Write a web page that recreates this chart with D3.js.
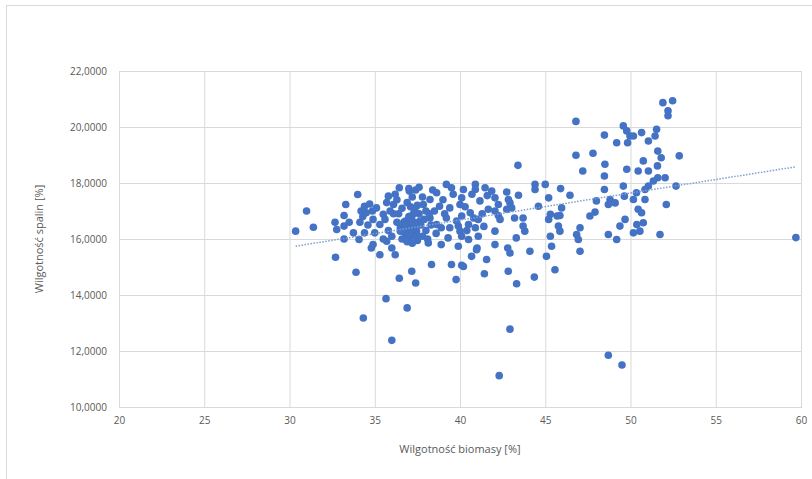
<!DOCTYPE html>
<html><head><meta charset="utf-8">
<script src="https://cdn.jsdelivr.net/npm/d3@7"></script>
<style>body{margin:0;background:#fff}svg{display:block}text{font-family:"Open Sans","Liberation Sans",sans-serif;fill:#595959}</style>
</head><body>
<svg id="c" width="812" height="479"></svg>
<script>
// Wilgotność biomasy [%]
const biomass = [
30.36,31.0,31.4,32.67,32.77,32.7,33.2,33.2,33.2,33.3,33.5,33.75,33.9,34.0,34.08,34.13,34.33,34.4,34.5,34.4,34.86,34.8,34.2,34.7,34.9,34.3,34.6,
35.1,35.8,36.1,35.5,35.3,35.0,34.9,35.3,35.7,36.0,36.2,36.44,37.03,36.5,36.8,37.07,37.17,37.45,37.65,37.36,37.85,38.24,38.63,39.2,39.5,38.8,39.4,40.0,38.24,38.63,39.2,39.8,40.0,39.3,38.14,38.9,39.9,38.33,39.5,40.1,37.17,36.44,37.4,39.77,35.66,36.9,36.0,
36.3,36.6,36.9,37.2,37.5,37.8,38.0,36.4,36.7,37.0,37.3,37.6,37.9,38.2,38.5,36.5,36.8,37.1,37.4,37.7,38.0,38.3,36.6,36.9,37.2,37.5,37.8,38.1,36.3,36.1,35.9,35.6,35.8,36.0,35.5,35.7,36.2,37.0,37.4,38.6,38.9,39.1,39.4,39.0,39.6,38.4,37.6,
36.95,37.1,37.25,37.05,37.2,36.85,37.35,37.0,37.15,36.75,37.3,37.1,36.9,37.2,37.45,36.7,
43.4,40.9,40.9,41.47,41.86,42.74,44.4,45.0,44.4,45.2,44.6,45.9,40.2,40.1,41.17,42.05,42.25,42.93,43.03,41.66,40.6,40.1,39.9,40.5,41.07,42.05,42.35,43.2,43.7,43.7,43.8,45.2,45.7,40.9,41.07,40.1,40.5,41.0,42.05,42.05,43.3,42.8,42.93,44.1,45.3,45.37,45.07,45.57,41.56,40.68,40.2,41.43,42.83,43.32,44.36,42.93,42.3,43.43,42.84,45.3,45.86,45.77,42.25,42.74,40.97,40.3,40.7,41.3,40.4,41.4,40.8,41.6,
46.8,48.47,49.58,49.78,49.97,49.19,49.83,46.8,47.8,48.5,47.2,48.47,49.78,46.45,48.47,49.58,49.64,48.0,48.8,49.1,48.7,45.96,47.92,47.62,49.68,49.38,45.86,47.04,46.84,48.7,49.19,46.94,47.04,
51.9,52.47,52.2,52.2,50.17,50.65,51.53,51.44,51.05,51.6,51.8,52.86,50.75,50.45,51.05,51.58,52.03,51.6,51.34,51.05,50.85,52.67,50.35,50.17,50.85,52.1,50.45,50.65,50.75,50.37,51.73,50.55,50.17,
48.7,49.5,59.7
];
// Wilgotność spalin [%]
const fluegas = [
16.28,17.0,16.42,16.6,16.34,15.35,16.84,16.46,16.0,17.23,16.6,16.22,14.81,17.59,15.98,16.6,13.18,17.17,16.94,16.22,17.0,15.68,17.0,17.25,16.7,16.8,16.5,
17.11,17.53,17.23,16.88,16.52,16.22,15.8,15.44,15.92,15.68,15.44,17.83,17.71,16.28,16.64,16.4,16.1,16.28,16.64,17.0,17.23,17.41,17.65,17.95,17.83,17.17,17.11,17.23,16.75,16.52,16.75,16.64,16.28,16.04,15.86,15.8,15.74,15.09,15.09,15.06,14.85,14.6,14.43,14.55,13.87,13.54,12.38,
17.4,17.1,17.3,17.5,17.2,17.5,17.0,16.9,16.6,16.8,16.6,16.9,16.7,16.9,17.0,16.4,16.2,16.5,16.3,16.5,16.3,16.5,16.0,15.95,16.15,15.95,16.1,16.0,16.6,16.9,17.0,16.7,16.3,16.1,16.0,17.3,17.6,17.8,17.75,16.2,16.4,16.9,16.4,17.4,17.6,17.75,17.85,
16.05,16.25,16.45,16.65,16.85,16.35,16.55,16.15,16.75,16.5,16.95,17.15,15.9,15.85,16.1,16.3,
18.63,17.95,17.77,17.83,17.71,17.68,17.95,17.95,17.77,17.47,17.17,17.8,17.77,17.47,17.36,17.47,17.23,17.29,17.11,17.06,16.94,16.82,16.46,16.52,16.7,17.0,16.7,16.75,16.75,16.46,16.28,16.7,16.82,16.4,16.1,16.1,15.98,15.68,16.28,15.8,16.04,15.68,15.5,15.56,16.1,15.74,15.38,14.9,15.27,15.38,15.02,14.76,14.85,14.4,14.64,12.78,11.12,17.56,17.41,16.88,16.84,16.46,16.84,17.06,15.62,17.15,17.6,16.9,16.3,16.45,16.75,17.55,
20.2,19.71,20.04,19.86,19.68,19.44,19.44,18.99,19.06,18.67,18.43,18.25,18.49,17.56,17.77,17.89,17.53,17.36,17.41,17.29,17.23,17.11,16.96,16.82,16.7,16.46,16.28,16.4,16.16,16.16,15.98,15.98,15.56,
20.87,20.94,20.58,20.4,19.68,19.8,19.92,19.68,19.5,19.14,18.9,18.97,18.79,18.43,18.43,18.61,18.19,18.19,18.07,17.89,17.77,17.89,17.65,17.41,17.41,17.23,17.06,16.94,16.58,16.52,16.16,16.28,16.22,
11.85,11.5,16.05
];
const xTicks = [20,25,30,35,40,45,50,55,60];
const yTicks = [10,12,14,16,18,20,22];
const xTitle = "Wilgotność biomasy [%]";
const yTitle = "Wilgotność spalin [%]";

const svg = d3.select("#c");
const m = {l:119, r:801, t:71, b:407};
const x = d3.scaleLinear().domain([20,60]).range([m.l,m.r]);
const y = d3.scaleLinear().domain([10,22]).range([m.b,m.t]);

svg.append("rect").attr("x",6.5).attr("y",5.5).attr("width",820).attr("height",490)
  .attr("fill","#fff").attr("stroke","#d9d9d9");

const gx = svg.append("g").attr("transform",`translate(0,${m.b})`)
  .call(d3.axisBottom(x).tickValues(xTicks).tickSize(-(m.b-m.t)).tickFormat(d=>d).tickPadding(10));
gx.selectAll("line").attr("stroke","#d9d9d9");
gx.select(".domain").attr("stroke","#bfbfbf");
gx.selectAll("text").attr("font-size",10).style("fill","#595959");
const gy = svg.append("g").attr("transform",`translate(${m.l},0)`)
  .call(d3.axisLeft(y).tickValues(yTicks).tickSize(-(m.r-m.l)).tickFormat(d=>d3.format(".4f")(d).replace(".",",")).tickPadding(12));
gy.selectAll("line").attr("stroke","#d9d9d9");
gy.select(".domain").remove();
gy.selectAll("text").attr("font-size",10).style("fill","#595959");

const pts = biomass.map((b,i)=>({x:b,y:fluegas[i]}));
const mx=d3.mean(pts,d=>d.x), my=d3.mean(pts,d=>d.y);
const slope=d3.sum(pts,d=>(d.x-mx)*(d.y-my))/d3.sum(pts,d=>(d.x-mx)**2);
const icpt=my-slope*mx;
const xe=d3.extent(biomass);

svg.append("g").selectAll("circle").data(pts).join("circle")
  .attr("cx",d=>x(d.x)).attr("cy",d=>y(d.y)).attr("r",3.8)
  .attr("fill","#4472C4");

svg.append("line").attr("x1",x(xe[0])).attr("y1",y(icpt+slope*xe[0]))
  .attr("x2",x(xe[1])).attr("y2",y(icpt+slope*xe[1]))
  .attr("stroke","#7f9fd0").attr("stroke-width",1.5).attr("stroke-dasharray","1.5,1.5");

svg.append("text").attr("x",(m.l+m.r)/2).attr("y",453).attr("text-anchor","middle")
  .attr("font-size",11).text(xTitle);
svg.append("text").attr("transform",`translate(43,${(m.t+m.b)/2}) rotate(-90)`).attr("text-anchor","middle")
  .attr("font-size",11).text(yTitle);
</script>
</body></html>
